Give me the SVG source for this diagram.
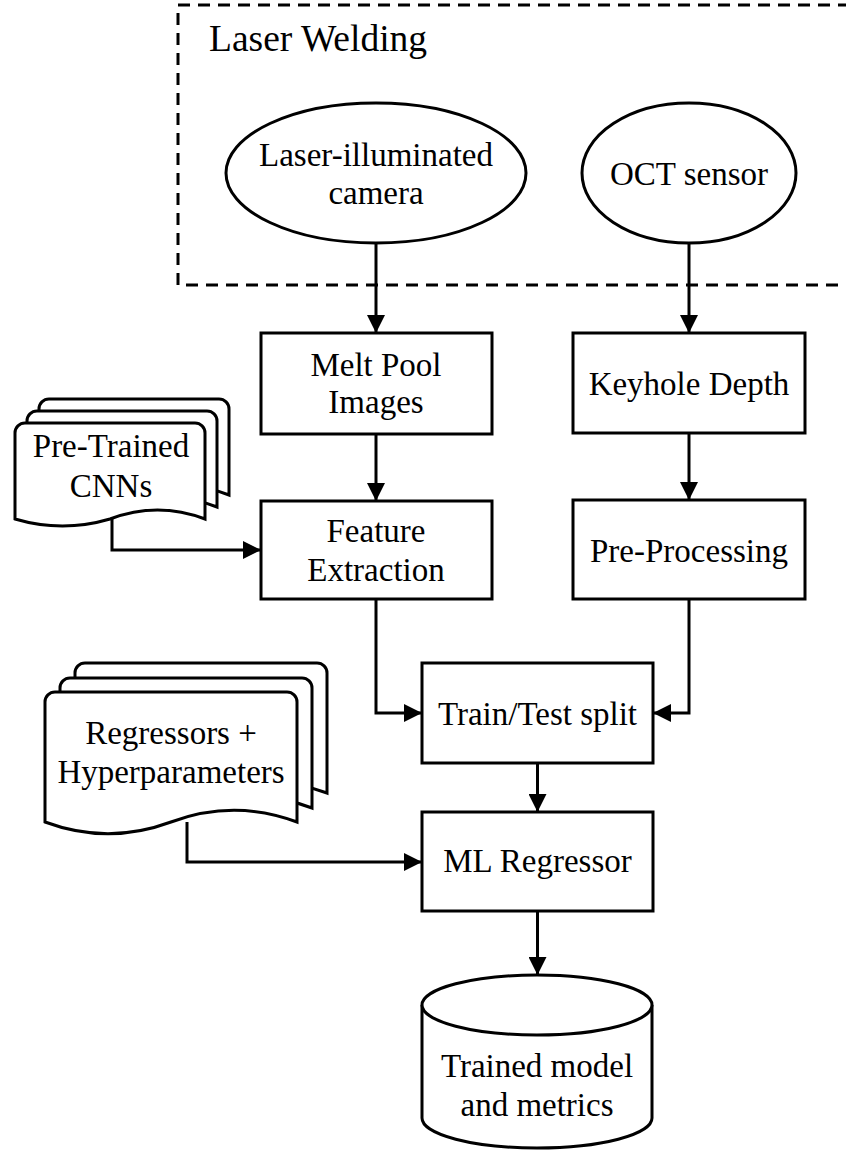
<svg xmlns="http://www.w3.org/2000/svg" width="846" height="1151" viewBox="0 0 846 1151">
<style>
  .shape { fill: #ffffff; stroke: #000000; stroke-width: 3; }
  .lbl { font-family: "Liberation Serif", "Times New Roman", serif; font-size: 33px; fill: #000000; text-anchor: middle; }
  .title { font-family: "Liberation Serif", "Times New Roman", serif; font-size: 37.5px; fill: #000000; }
  .conn { fill: none; stroke: #000000; stroke-width: 3; }
</style>
<defs>
  <marker id="arrow" markerWidth="18" markerHeight="18" refX="18" refY="9" orient="auto" markerUnits="userSpaceOnUse">
    <path d="M0,0 L18,9 L0,18 Z" fill="#000000"/>
  </marker>
</defs>
<rect width="846" height="1151" fill="#ffffff"/>

<g id="laser-welding-group">
  <rect x="178" y="5" width="700" height="280" fill="none" stroke="#000000" stroke-width="3" stroke-dasharray="12 8"/>
  <text class="title" x="209" y="51">Laser Welding</text>
</g>

<g id="connectors">
  <path class="conn" d="M376,243 L376,333" marker-end="url(#arrow)"/>
  <path class="conn" d="M689,243 L689,333" marker-end="url(#arrow)"/>
  <path class="conn" d="M376,434 L376,501" marker-end="url(#arrow)"/>
  <path class="conn" d="M689,433 L689,500" marker-end="url(#arrow)"/>
  <path class="conn" d="M112,518 L112,550 L261,550" marker-end="url(#arrow)"/>
  <path class="conn" d="M376,599 L376,713 L422,713" marker-end="url(#arrow)"/>
  <path class="conn" d="M689,599 L689,713 L653,713" marker-end="url(#arrow)"/>
  <path class="conn" d="M537.5,763 L537.5,812" marker-end="url(#arrow)"/>
  <path class="conn" d="M187,822 L187,862 L422,862" marker-end="url(#arrow)"/>
  <path class="conn" d="M537.5,911 L537.5,975" marker-end="url(#arrow)"/>
</g>

<g id="camera">
  <ellipse class="shape" cx="376" cy="173" rx="150" ry="70"/>
  <text class="lbl" x="376" y="166">Laser-illuminated</text>
  <text class="lbl" x="376" y="204">camera</text>
</g>

<g id="oct-sensor">
  <ellipse class="shape" cx="689" cy="173" rx="107" ry="70"/>
  <text class="lbl" x="689" y="185">OCT sensor</text>
</g>

<g id="melt-pool">
  <rect class="shape" x="261" y="333" width="231" height="101"/>
  <text class="lbl" x="376" y="376">Melt Pool</text>
  <text class="lbl" x="376" y="413">Images</text>
</g>

<g id="keyhole-depth">
  <rect class="shape" x="573" y="333" width="232" height="100"/>
  <text class="lbl" x="689" y="395">Keyhole Depth</text>
</g>

<g id="pretrained-cnns">
  <path class="shape" d="M39,409 A10,10 0 0 1 49,399 L219,399 A10,10 0 0 1 229,409 L229,495 Q181.5,477 134,495 Q86.5,509 39,495 Z"/>
  <path class="shape" d="M27,421 A10,10 0 0 1 37,411 L207,411 A10,10 0 0 1 217,421 L217,507 Q169.5,489 122,507 Q74.5,521 27,507 Z"/>
  <path class="shape" d="M15,433 A10,10 0 0 1 25,423 L195,423 A10,10 0 0 1 205,433 L205,519 Q157.5,501 110,519 Q62.5,533 15,519 Z"/>
  <text class="lbl" x="111" y="457">Pre-Trained</text>
  <text class="lbl" x="111" y="497">CNNs</text>
</g>

<g id="feature-extraction">
  <rect class="shape" x="261" y="501" width="231" height="98"/>
  <text class="lbl" x="376" y="542">Feature</text>
  <text class="lbl" x="376" y="581">Extraction</text>
</g>

<g id="pre-processing">
  <rect class="shape" x="573" y="500" width="232" height="99"/>
  <text class="lbl" x="689" y="562">Pre-Processing</text>
</g>

<g id="train-test-split">
  <rect class="shape" x="422" y="663" width="231" height="100"/>
  <text class="lbl" x="537.5" y="725">Train/Test split</text>
</g>

<g id="regressors">
  <path class="shape" d="M75,673 A10,10 0 0 1 85,663 L317,663 A10,10 0 0 1 327,673 L327,793 Q264,769.6 201,793 Q138,816.4 75,793 Z"/>
  <path class="shape" d="M60,688 A10,10 0 0 1 70,678 L302,678 A10,10 0 0 1 312,688 L312,808 Q249,784.6 186,808 Q123,831.4 60,808 Z"/>
  <path class="shape" d="M45,702 A10,10 0 0 1 55,692 L287,692 A10,10 0 0 1 297,702 L297,822 Q234,798.6 171,822 Q108,845.4 45,822 Z"/>
  <text class="lbl" x="171" y="744">Regressors +</text>
  <text class="lbl" x="171" y="783">Hyperparameters</text>
</g>

<g id="ml-regressor">
  <rect class="shape" x="422" y="812" width="231" height="99"/>
  <text class="lbl" x="537.5" y="872">ML Regressor</text>
</g>

<g id="trained-model">
  <path class="shape" d="M422,1005 L422,1118 A115,30 0 0 0 652,1118 L652,1005"/>
  <ellipse class="shape" cx="537" cy="1005" rx="115" ry="30"/>
  <text class="lbl" x="537" y="1077">Trained model</text>
  <text class="lbl" x="537" y="1116">and metrics</text>
</g>
</svg>
